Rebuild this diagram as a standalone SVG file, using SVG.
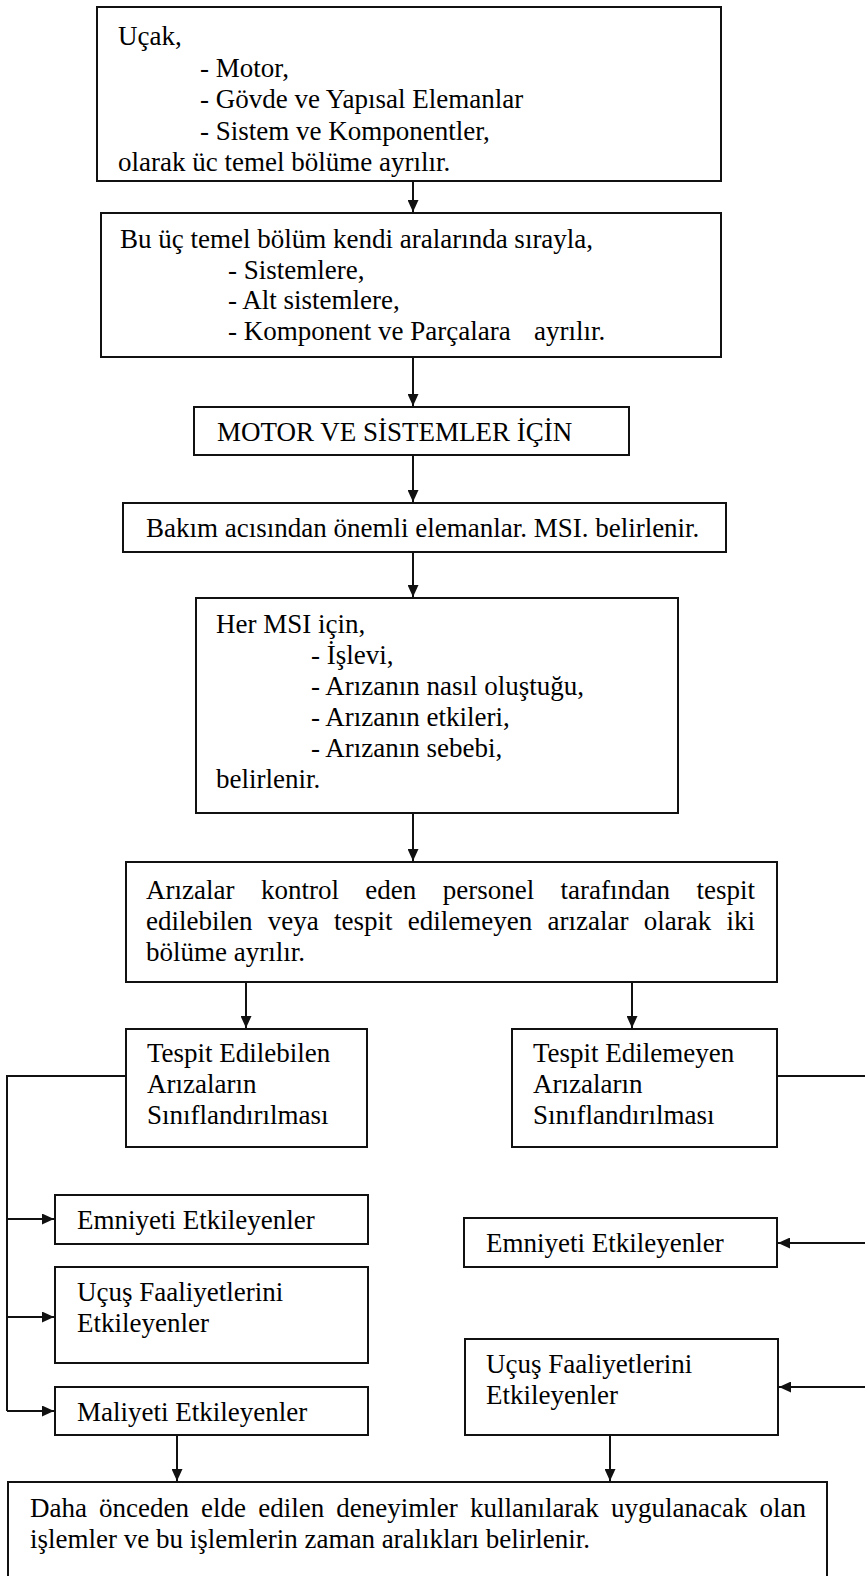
<svg xmlns="http://www.w3.org/2000/svg" width="865" height="1576" viewBox="0 0 865 1576">
  <style>
    .box { fill: #fff; stroke: #111; stroke-width: 2; }
    .t { font-family: "Liberation Serif", "Times New Roman", serif; font-size: 27px; fill: #000; }
    .c { fill: none; stroke: #111; stroke-width: 2; }
  </style>
  <defs>
    <marker id="arrow" markerUnits="userSpaceOnUse" markerWidth="13" markerHeight="11" refX="12" refY="5.5" orient="auto">
      <path d="M0,0 L12,5.5 L0,11 Z" fill="#111"/>
    </marker>
  </defs>
  <rect width="865" height="1576" fill="#fff"/>

  <!-- connectors -->
  <g id="connectors">
    <path class="c" d="M413,181 V212" marker-end="url(#arrow)"/>
    <path class="c" d="M413,357 V406" marker-end="url(#arrow)"/>
    <path class="c" d="M413,455 V502" marker-end="url(#arrow)"/>
    <path class="c" d="M413,552 V597" marker-end="url(#arrow)"/>
    <path class="c" d="M413,813 V861" marker-end="url(#arrow)"/>
    <path class="c" d="M246,982 V1028" marker-end="url(#arrow)"/>
    <path class="c" d="M632,982 V1028" marker-end="url(#arrow)"/>
    <!-- left branch bus -->
    <path class="c" d="M126,1076 H7 V1411"/>
    <path class="c" d="M7,1219 H54" marker-end="url(#arrow)"/>
    <path class="c" d="M7,1317 H54" marker-end="url(#arrow)"/>
    <path class="c" d="M7,1411 H54" marker-end="url(#arrow)"/>
    <!-- right branch bus -->
    <path class="c" d="M777,1076 H866"/>
    <path class="c" d="M866,1243 H778" marker-end="url(#arrow)"/>
    <path class="c" d="M866,1387 H779" marker-end="url(#arrow)"/>
    <!-- into the final box -->
    <path class="c" d="M177,1435 V1481" marker-end="url(#arrow)"/>
    <path class="c" d="M610,1435 V1481" marker-end="url(#arrow)"/>
  </g>

  <g id="n-ucak">
    <rect class="box" x="97" y="7" width="624" height="174"/>
    <text class="t" x="118" y="45">Uçak,</text>
    <text class="t" x="200" y="77">- Motor,</text>
    <text class="t" x="200" y="108">- Gövde ve Yapısal Elemanlar</text>
    <text class="t" x="200" y="140">- Sistem ve Komponentler,</text>
    <text class="t" x="118" y="171">olarak üc temel bölüme ayrılır.</text>
  </g>

  <g id="n-bolumler">
    <rect class="box" x="101" y="213" width="620" height="144"/>
    <text class="t" x="120" y="248">Bu üç temel bölüm kendi aralarında sırayla,</text>
    <text class="t" x="228" y="279">- Sistemlere,</text>
    <text class="t" x="228" y="309">- Alt sistemlere,</text>
    <text class="t" y="340"><tspan x="228">- Komponent ve Parçalara</tspan><tspan x="534">ayrılır.</tspan></text>
  </g>

  <g id="n-motor">
    <rect class="box" x="194" y="407" width="435" height="48"/>
    <text class="t" x="217" y="441">MOTOR VE SİSTEMLER İÇİN</text>
  </g>

  <g id="n-msi">
    <rect class="box" x="123" y="503" width="603" height="49"/>
    <text class="t" x="146" y="537">Bakım acısından önemli elemanlar. MSI. belirlenir.</text>
  </g>

  <g id="n-her-msi">
    <rect class="box" x="196" y="598" width="482" height="215"/>
    <text class="t" x="216" y="633">Her MSI için,</text>
    <text class="t" x="311" y="664">- İşlevi,</text>
    <text class="t" x="311" y="695">- Arızanın nasıl oluştuğu,</text>
    <text class="t" x="311" y="726">- Arızanın etkileri,</text>
    <text class="t" x="311" y="757">- Arızanın sebebi,</text>
    <text class="t" x="216" y="788">belirlenir.</text>
  </g>

  <g id="n-arizalar">
    <rect class="box" x="126" y="862" width="651" height="120"/>
    <text class="t" y="899"><tspan x="146">Arızalar</tspan><tspan x="260.9">kontrol</tspan><tspan x="365.3">eden</tspan><tspan x="442.7">personel</tspan><tspan x="560.6">tarafından</tspan><tspan x="696.5">tespit</tspan></text>
    <text class="t" y="930"><tspan x="146">edilebilen</tspan><tspan x="267.8">veya</tspan><tspan x="334">tespit</tspan><tspan x="407.8">edilemeyen</tspan><tspan x="547.5">arızalar</tspan><tspan x="643.8">olarak</tspan><tspan x="726.5">iki</tspan></text>
    <text class="t" x="146" y="961">bölüme ayrılır.</text>
  </g>

  <g id="n-tespit-edilebilen">
    <rect class="box" x="126" y="1029" width="241" height="118"/>
    <text class="t" x="147" y="1062">Tespit Edilebilen</text>
    <text class="t" x="147" y="1093">Arızaların</text>
    <text class="t" x="147" y="1124">Sınıflandırılması</text>
  </g>

  <g id="n-tespit-edilemeyen">
    <rect class="box" x="512" y="1029" width="265" height="118"/>
    <text class="t" x="533" y="1062">Tespit Edilemeyen</text>
    <text class="t" x="533" y="1093">Arızaların</text>
    <text class="t" x="533" y="1124">Sınıflandırılması</text>
  </g>

  <g id="n-emniyet-l">
    <rect class="box" x="55" y="1195" width="313" height="49"/>
    <text class="t" x="77" y="1229">Emniyeti Etkileyenler</text>
  </g>

  <g id="n-ucus-l">
    <rect class="box" x="55" y="1267" width="313" height="96"/>
    <text class="t" x="77" y="1301">Uçuş Faaliyetlerini</text>
    <text class="t" x="77" y="1332">Etkileyenler</text>
  </g>

  <g id="n-maliyet-l">
    <rect class="box" x="55" y="1387" width="313" height="48"/>
    <text class="t" x="77" y="1421">Maliyeti Etkileyenler</text>
  </g>

  <g id="n-emniyet-r">
    <rect class="box" x="464" y="1218" width="313" height="49"/>
    <text class="t" x="486" y="1252">Emniyeti Etkileyenler</text>
  </g>

  <g id="n-ucus-r">
    <rect class="box" x="465" y="1339" width="313" height="96"/>
    <text class="t" x="486" y="1373">Uçuş Faaliyetlerini</text>
    <text class="t" x="486" y="1404">Etkileyenler</text>
  </g>

  <g id="n-sonuc">
    <rect class="box" x="8" y="1482" width="819" height="110"/>
    <text class="t" y="1517"><tspan x="30">Daha</tspan><tspan x="99.1">önceden</tspan><tspan x="201.1">elde</tspan><tspan x="258.2">edilen</tspan><tspan x="336.3">deneyimler</tspan><tspan x="469.9">kullanılarak</tspan><tspan x="611">uygulanacak</tspan><tspan x="759.5">olan</tspan></text>
    <text class="t" x="30" y="1548">işlemler ve bu işlemlerin zaman aralıkları belirlenir.</text>
  </g>
</svg>
